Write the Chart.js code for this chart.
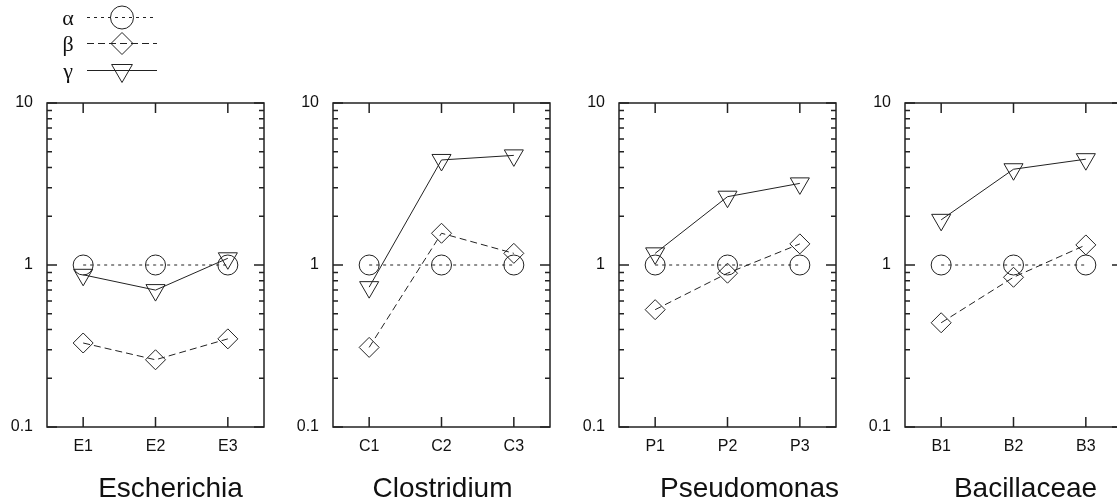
<!DOCTYPE html>
<html>
<head>
<meta charset="utf-8">
<script src="https://cdn.jsdelivr.net/npm/chart.js@4.4.1/dist/chart.umd.min.js"></script>
<style>
  html, body { margin: 0; padding: 0; background: #fff; overflow: hidden; }
  body { width: 1117px; height: 504px; position: relative; }
  canvas { position: absolute; top: 0; }
</style>
</head>
<body>
<canvas id="c0" width="286" height="504" style="left:0px"></canvas>
<canvas id="c1" width="286" height="504" style="left:286px"></canvas>
<canvas id="c2" width="286" height="504" style="left:572px"></canvas>
<canvas id="c3" width="286" height="504" style="left:858px"></canvas>
<script>
// données
const groups = ['Escherichia', 'Clostridium', 'Pseudomonas', 'Bacillaceae'];
const categories = [
    ['E1', 'E2', 'E3'],
    ['C1', 'C2', 'C3'],
    ['P1', 'P2', 'P3'],
    ['B1', 'B2', 'B3']
];
const seriesNames = ['α', 'β', 'γ'];
const alphaValues = [[1, 1, 1], [1, 1, 1], [1, 1, 1], [1, 1, 1]];
const betaValues = [[0.33, 0.26, 0.35], [0.31, 1.57, 1.18], [0.53, 0.89, 1.35], [0.44, 0.84, 1.33]];
const gammaValues = [[0.87, 0.70, 1.10], [0.73, 4.45, 4.75], [1.18, 2.64, 3.19], [1.90, 3.90, 4.50]];
const yTicks = [0.1, 1, 10];
const yMinorTicks = [0.2, 0.3, 0.4, 0.5, 0.6, 0.7, 0.8, 0.9, 2, 3, 4, 5, 6, 7, 8, 9];

const INK = '#222';
const SANS = '"Liberation Sans", Arial, Helvetica, sans-serif';
const titleShift = [15, 1, 22, 12];

// styles des séries
const seriesStyle = [
    { dash: [3, 4], pointStyle: 'circle', radius: 10, rotation: 0 },
    { dash: [7, 4], pointStyle: 'rectRot', radius: 10, rotation: 0 },
    { dash: [], pointStyle: 'triangle', radius: 11, rotation: 180 }
];

// cadre, graduations intérieures et titre du panneau
const framePlugin = {
    id: 'frame',
    afterDraw(chart, args, opts) {
        const { ctx, chartArea: a } = chart;
        const x = chart.scales.x, y = chart.scales.y;
        ctx.save();
        ctx.strokeStyle = INK;
        ctx.lineWidth = 1.5;
        ctx.setLineDash([]);
        ctx.strokeRect(a.left, a.top, a.right - a.left, a.bottom - a.top);
        ctx.beginPath();
        yTicks.forEach(v => {
            const py = y.getPixelForValue(v);
            ctx.moveTo(a.left, py); ctx.lineTo(a.left + 10, py);
            ctx.moveTo(a.right, py); ctx.lineTo(a.right - 10, py);
        });
        yMinorTicks.forEach(v => {
            const py = y.getPixelForValue(v);
            ctx.moveTo(a.left, py); ctx.lineTo(a.left + 5, py);
            ctx.moveTo(a.right, py); ctx.lineTo(a.right - 5, py);
        });
        x.ticks.forEach((t, i) => {
            const px = x.getPixelForTick(i);
            ctx.moveTo(px, a.bottom); ctx.lineTo(px, a.bottom - 10);
            ctx.moveTo(px, a.top); ctx.lineTo(px, a.top + 10);
        });
        ctx.stroke();
        ctx.fillStyle = '#111';
        ctx.font = '28px ' + SANS;
        ctx.textAlign = 'center';
        ctx.textBaseline = 'alphabetic';
        ctx.fillText(opts.title, (a.left + a.right) / 2 + opts.shift, 497);
        ctx.restore();
    }
};

// légende (ligne + symbole) en haut à gauche
const legendPlugin = {
    id: 'lineLegend',
    afterDraw(chart, args, opts) {
        if (!opts.show) return;
        const ctx = chart.ctx;
        const rows = [17.5, 43.5, 70.5];
        const legendRadius = [11.5, 11, 12];
        ctx.save();
        seriesNames.forEach((name, i) => {
            const yy = rows[i];
            const st = seriesStyle[i];
            ctx.fillStyle = '#111';
            ctx.font = '22px "Liberation Serif", "DejaVu Serif", serif';
            ctx.textAlign = 'center';
            ctx.textBaseline = 'alphabetic';
            ctx.fillText(name, 68, yy + 7.5);
            ctx.strokeStyle = INK;
            ctx.lineWidth = 1;
            ctx.setLineDash(st.dash);
            ctx.beginPath();
            ctx.moveTo(87, yy);
            ctx.lineTo(157, yy);
            ctx.stroke();
            ctx.setLineDash([]);
            ctx.fillStyle = 'rgba(0,0,0,0)';
            Chart.helpers.drawPoint(ctx, {
                pointStyle: st.pointStyle,
                radius: legendRadius[i],
                rotation: st.rotation,
                borderWidth: 1
            }, 122, yy);
        });
        ctx.restore();
    }
};

function makeDataset(i, values) {
    const st = seriesStyle[i];
    return {
        label: seriesNames[i],
        data: values,
        borderColor: INK,
        borderWidth: 1,
        borderDash: st.dash,
        tension: 0,
        pointStyle: st.pointStyle,
        pointRadius: st.radius,
        pointRotation: st.rotation,
        pointBorderWidth: 1,
        pointBorderColor: INK,
        pointBackgroundColor: 'rgba(0,0,0,0)'
    };
}

groups.forEach((group, g) => {
    new Chart(document.getElementById('c' + g).getContext('2d'), {
        type: 'line',
        data: {
            labels: categories[g],
            datasets: [
                makeDataset(0, alphaValues[g]),
                makeDataset(1, betaValues[g]),
                makeDataset(2, gammaValues[g])
            ]
        },
        options: {
            responsive: false,
            animation: false,
            devicePixelRatio: 1,
            layout: { padding: { top: 103, right: 22, left: 0, bottom: 0 } },
            plugins: {
                legend: { display: false },
                tooltip: { enabled: false },
                frame: { title: group, shift: titleShift[g] },
                lineLegend: { show: g === 0 }
            },
            scales: {
                x: {
                    type: 'category',
                    offset: true,
                    grid: { display: false, drawTicks: false },
                    border: { display: false },
                    ticks: { color: '#111', font: { size: 16, family: SANS }, padding: 10, maxRotation: 0 },
                    afterFit(s) { s.height = 77; }
                },
                y: {
                    type: 'logarithmic',
                    min: 0.1,
                    max: 10,
                    grid: { display: false, drawTicks: false },
                    border: { display: false },
                    ticks: { color: '#111', font: { size: 16, family: SANS }, padding: 14, callback: v => String(v) },
                    afterBuildTicks(s) { s.ticks = yTicks.map(v => ({ value: v })); },
                    afterFit(s) { s.width = 47; }
                }
            }
        },
        plugins: [framePlugin, legendPlugin]
    });
});
</script>
</body>
</html>
